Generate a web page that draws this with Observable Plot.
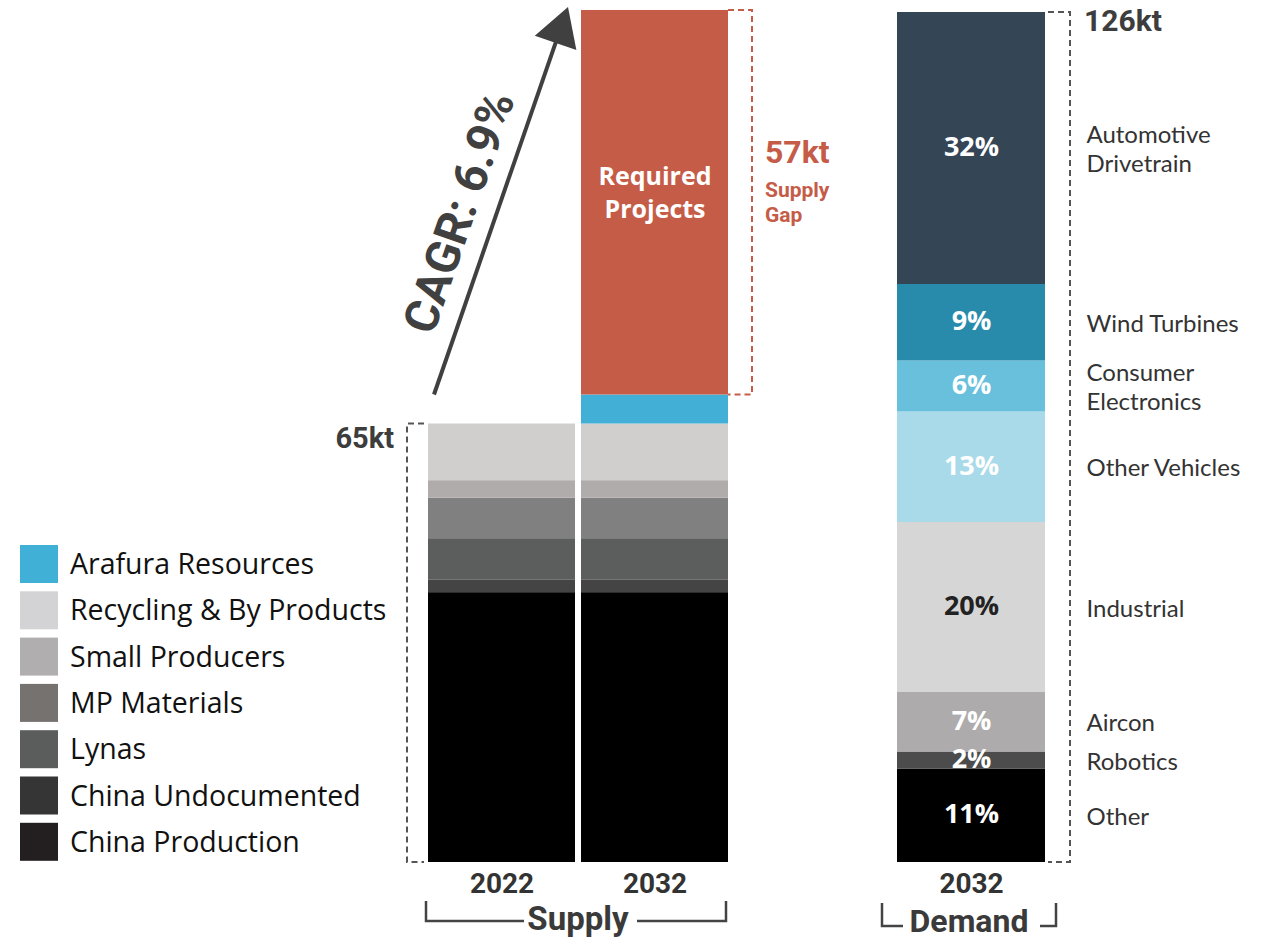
<!DOCTYPE html>
<html><head><meta charset="utf-8">
<script src="https://cdn.jsdelivr.net/npm/d3@7"></script>
<script src="https://cdn.jsdelivr.net/npm/@observablehq/plot@0.6"></script>
<style>
body{margin:0;background:#fff;}
#chart{position:relative;width:1273px;height:939px;overflow:hidden;background:#fff;}
#chart svg{position:absolute;top:0;}
</style></head><body><div id="chart"></div>
<script>
// ---------- data ----------
const supplyYears = ["2022", "2032"];
const supplySources = ["China Production", "China Undocumented", "Lynas", "MP Materials", "Small Producers", "Recycling & By Products", "Arafura Resources", "Required Projects"];
const supply2022 = [40.0, 1.9, 6.1, 6.0, 2.6, 8.4, 0, 0];
const supply2032 = [40.0, 1.9, 6.1, 6.0, 2.6, 8.4, 4.3, 57];
const supplyColors = ["#000000", "#444444", "#5c5e5d", "#808080", "#b0acab", "#d0cfcd", "#42afd6", "#c55c47"];
const legendSources = ["Arafura Resources", "Recycling & By Products", "Small Producers", "MP Materials", "Lynas", "China Undocumented", "China Production"];
const legendColors = ["#41b0d6", "#d3d3d5", "#b1aeaf", "#767270", "#5b5d5c", "#353535", "#231f20"];
const supplyLabel2022 = "65kt";
const gapLabel = "57kt";
const cagrLabel = "CAGR: 6.9%";

const demandYear = "2032";
const demandTotal = 126;
const demandTotalLabel = "126kt";
const demandSegments = ["Other", "Robotics", "Aircon", "Industrial", "Other Vehicles", "Consumer Electronics", "Wind Turbines", "Automotive Drivetrain"];
const demandLabels = ["Other", "Robotics", "Aircon", "Industrial", "Other Vehicles", "Consumer\nElectronics", "Wind Turbines", "Automotive\nDrivetrain"];
const demandShares = [11, 2, 7, 20, 13, 6, 9, 32];
const demandColors = ["#000000", "#4c4c4c", "#adabac", "#d6d6d6", "#a9dae9", "#69c0dc", "#288bab", "#344556"];
const demandDarkText = ["Industrial"];

// ---------- tables ----------
const seriesByYear = {"2022": supply2022, "2032": supply2032};
const supplyData = supplyYears.flatMap(yr => supplySources.map((s, i) => ({year: yr, source: s, value: seriesByYear[yr][i]}))).filter(d => d.value > 0);
const demandData = demandSegments.map((s, i) => ({period: demandYear, segment: s, label: demandLabels[i], share: demandShares[i], value: demandTotal * demandShares[i] / 100}));
const total2022 = d3.sum(supply2022);
const total2032 = d3.sum(supply2032);

const ROBOTO = "Roboto, 'DejaVu Sans', sans-serif";
const OPEN = "'Open Sans', 'Noto Sans', sans-serif";
const LATO = "Lato, 'Open Sans', sans-serif";
const H = 939, MT = 12, MB = 77;

// ---------- supply plot ----------
const supplyPlot = Plot.plot({
  width: 860, height: H,
  marginLeft: 427, marginRight: 132, marginTop: MT, marginBottom: MB,
  style: {background: "transparent", overflow: "visible"},
  x: {domain: supplyYears, paddingInner: 0.04, paddingOuter: 0, axis: null},
  y: {domain: [0, demandTotal], axis: null},
  color: {domain: supplySources, range: supplyColors},
  marks: [
    Plot.barY(supplyData, {x: "year", y: "value", fill: "source"}),
    Plot.text(supplyData, Plot.stackY({x: "year", y: "value",
      text: d => d.source === "Required Projects" ? "Required\nProjects" : null,
      fill: "white", fontFamily: OPEN, fontWeight: "bold", fontSize: 25, lineHeight: 1.32, dy: -12})),
    Plot.text(supplyYears, {x: d => d, text: d => d, frameAnchor: "bottom", dy: 30,
      fill: "#333", fontFamily: ROBOTO, fontWeight: "bold", fontSize: 28})
  ]
});

// ---------- demand plot ----------
const demandPlot = Plot.plot({
  width: 413, height: H,
  marginLeft: 37, marginRight: 228, marginTop: MT, marginBottom: MB,
  style: {background: "transparent", overflow: "visible"},
  x: {domain: [demandYear], padding: 0, axis: null},
  y: {domain: [0, demandTotal], axis: null},
  color: {domain: demandSegments, range: demandColors},
  marks: [
    Plot.barY(demandData, {x: "period", y: "value", fill: "segment"}),
    Plot.text(demandData, Plot.stackY({x: "period", y: "value",
      text: d => demandDarkText.includes(d.segment) ? null : d.share + "%",
      fill: "white", fontFamily: OPEN, fontWeight: "bold", fontSize: 27, dy: -1})),
    Plot.text(demandData, Plot.stackY({x: "period", y: "value",
      text: d => demandDarkText.includes(d.segment) ? d.share + "%" : null,
      fill: "#222", fontFamily: OPEN, fontWeight: "bold", fontSize: 27, dy: -1})),
    Plot.text(demandData, Plot.stackY({x: "period", y: "value", text: "label",
      textAnchor: "start", dx: 115, dy: 0, lineHeight: 1.2,
      fill: "#333", fontFamily: LATO, fontSize: 24})),
    Plot.text([demandYear], {x: d => d, text: d => d, frameAnchor: "bottom", dy: 30,
      fill: "#333", fontFamily: ROBOTO, fontWeight: "bold", fontSize: 28})
  ]
});

const chart = document.getElementById("chart");
supplyPlot.style.left = "0px";
demandPlot.style.left = "860px";
chart.appendChild(supplyPlot);
chart.appendChild(demandPlot);

// ---------- annotation helpers ----------
function path(svg, d, stroke, width, dash, fill) {
  svg.append("path").attr("d", d).attr("fill", fill || "none").attr("stroke", stroke)
    .attr("stroke-width", width).attr("stroke-dasharray", dash || null);
}
function label(svg, x, y, txt, o) {
  const t = svg.append("text").attr("x", x).attr("y", y).text(txt)
    .attr("font-family", o.family || ROBOTO).attr("font-size", o.size)
    .attr("font-weight", o.weight || "normal").attr("fill", o.fill || "#333")
    .attr("text-anchor", o.anchor || "start");
  if (o.transform) t.attr("transform", o.transform);
  return t;
}

// supply annotations
{
  const svg = d3.select(supplyPlot);
  const sx = supplyPlot.scale("x"), sy = supplyPlot.scale("y");
  const bw = sx.bandwidth;
  const x22 = sx.apply("2022"), x32 = sx.apply("2032");
  const y0 = sy.apply(0), y65 = sy.apply(total2022), yTop = sy.apply(total2032), yGap = sy.apply(total2032 - 57);
  // 65kt bracket
  const bx = x22 - 21;
  path(svg, `M${bx + 17},${y65}H${bx}V${y0}H${bx + 17}`, "#555", 2, "6,4");
  label(svg, bx - 13, y65 + 24, supplyLabel2022, {size: 29, weight: "bold", anchor: "end", fill: "#3d3d3d"});
  // supply gap bracket
  const rx = x32 + bw + 24;
  path(svg, `M${x32 + bw},${yTop}H${rx}V${yGap}H${x32 + bw}`, "#c55c47", 2, "6,4");
  const gm = (yTop + yGap) / 2;
  label(svg, rx + 13, gm - 39, gapLabel, {size: 32, weight: "bold", fill: "#c55c47"});
  label(svg, rx + 13, gm - 5, "Supply", {size: 21, weight: "bold", fill: "#c55c47"});
  label(svg, rx + 13, gm + 20, "Gap", {size: 21, weight: "bold", fill: "#c55c47"});
  // CAGR arrow
  const sx0 = x22 + 6, sy0 = y65 - 29;
  const tip = [x32 - 13, yTop - 3];
  const ang = Math.atan2(tip[1] - sy0, tip[0] - sx0);
  const ux = Math.cos(ang), uy = Math.sin(ang);
  const headLen = 38, headHalf = 22;
  const base = [tip[0] - ux * headLen, tip[1] - uy * headLen];
  path(svg, `M${sx0},${sy0}L${base[0] + ux * 4},${base[1] + uy * 4}`, "#404040", 4);
  svg.append("path").attr("d",
    `M${tip[0]},${tip[1]}L${base[0] - uy * headHalf},${base[1] + ux * headHalf}L${base[0] + uy * headHalf},${base[1] - ux * headHalf}Z`)
    .attr("fill", "#404040");
  const deg = ang * 180 / Math.PI;
  const mid = [sx0 + (tip[0] - sx0) * 0.44, sy0 + (tip[1] - sy0) * 0.44];
  const off = 36;
  const cx = mid[0] + uy * off, cy = mid[1] - ux * off;
  label(svg, 0, 0, cagrLabel, {size: 47, weight: "bold", anchor: "middle", fill: "#404040",
    transform: `translate(${cx},${cy}) rotate(${deg}) translate(0,16)`});
  // Supply group label
  const gl = x22 - 2, gr = x32 + bw - 2, gy = 921;
  path(svg, `M${gl},${gy - 20}V${gy}H${gl + 98}`, "#444", 2.5);
  path(svg, `M${gr - 89},${gy}H${gr}V${gy - 20}`, "#444", 2.5);
  label(svg, (gl + gr) / 2 + 2, 930, "Supply", {size: 33, weight: "bold", anchor: "middle", fill: "#3a3a3a"});
  // legend
  legendSources.forEach((s, i) => {
    const y = 545 + i * 46.3;
    svg.append("rect").attr("x", 20).attr("y", y).attr("width", 38).attr("height", 38).attr("fill", legendColors[i]);
    label(svg, 70, y + 29, s, {family: OPEN, size: 28.5, fill: "#111"});
  });
}

// demand annotations
{
  const svg = d3.select(demandPlot);
  const sx = demandPlot.scale("x"), sy = demandPlot.scale("y");
  const bw = sx.bandwidth;
  const x0 = sx.apply(demandYear);
  const y0 = sy.apply(0), yT = sy.apply(demandTotal);
  const bx = x0 + bw + 25;
  path(svg, `M${x0 + bw + 3},${yT}H${bx}V${y0}H${x0 + bw + 3}`, "#555", 2, "6,4");
  label(svg, bx + 14, yT + 19, demandTotalLabel, {size: 30, weight: "bold", fill: "#3d3d3d"});
  const gl = x0 - 15, gr = x0 + bw + 11, gy = 926;
  path(svg, `M${gl},${gy - 23}V${gy}H${gl + 21}`, "#444", 2.5);
  path(svg, `M${gr - 16},${gy}H${gr}V${gy - 23}`, "#444", 2.5);
  label(svg, (gl + gr) / 2, 932, "Demand", {size: 32, weight: "bold", anchor: "middle", fill: "#3a3a3a"});
}
</script>
</body></html>
